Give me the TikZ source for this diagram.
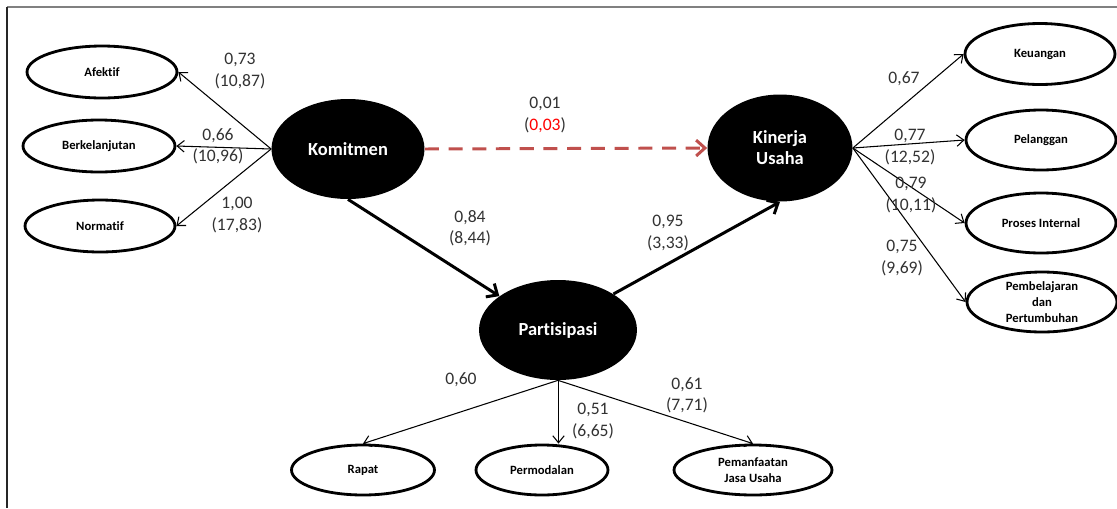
\documentclass[tikz,border=0pt]{standalone}
\usepackage{fontspec}
\setmainfont[Ligatures=NoCommon]{Carlito}
\usetikzlibrary{shapes.geometric,arrows.meta,calc}
\definecolor{dashred}{RGB}{192,80,77}
\definecolor{lblgray}{RGB}{50,50,50}
\begin{document}
\begin{tikzpicture}[x=0.02cm,y=-0.02cm,
  ind/.style={ellipse,draw=black,line width=1.6pt,fill=white,inner sep=0pt,
    font=\fontsize{7.2}{9}\selectfont\bfseries,align=center},
  lat/.style={ellipse,fill=black,inner sep=0pt,text=white,
    font=\fontsize{10.5}{12}\selectfont\bfseries,align=center},
  loadarrow/.style={line width=0.6pt,-{Straight Barb[length=4pt,width=6.5pt]}},
  patharrow/.style={line width=1.7pt,-{Straight Barb[length=5pt,width=9pt]}},
  nsarrow/.style={line width=1.7pt,dashred,dash pattern=on 8pt off 5.5pt,
    -{Straight Barb[length=5pt,width=9pt]}},
  lbl/.style={font=\fontsize{10}{12}\selectfont,text=lblgray,align=center,inner sep=0pt}
]
\useasboundingbox (0,0) rectangle (1117,508);
\fill[white] (0,0) rectangle (1117,508);
% frame
\draw[line width=1.1pt,black!50] (7,7) -- (1117,7);
\draw[line width=1.1pt,black!85] (7,7) -- (7,508);

% latent variables
\node[lat,minimum width=3.06cm,minimum height=2.0cm] (kom) at (348,149) {Komitmen};
\node[lat,minimum width=2.9cm,minimum height=2.14cm] (kin) at (780,148) {Kinerja\\Usaha};
\node[lat,minimum width=3.16cm,minimum height=2.0cm] (par) at (558,330) {Partisipasi};

% left indicators
\node[ind,minimum width=3.0cm,minimum height=1.04cm] (afe) at (102,72) {Afektif};
\node[ind,minimum width=3.04cm,minimum height=1.04cm] (ber) at (99,146) {Berkelanjutan};
\node[ind,minimum width=3.0cm,minimum height=1.04cm] (nor) at (100,226) {Normatif};

% right indicators
\node[ind,minimum width=3.0cm,minimum height=1.22cm] (keu) at (1040,54) {Keuangan};
\node[ind,minimum width=3.0cm,minimum height=1.2cm] (pel) at (1041,140) {Pelanggan};
\node[ind,minimum width=3.0cm,minimum height=1.2cm] (pro) at (1041,223) {Proses Internal};
\node[ind,minimum width=3.0cm,minimum height=1.2cm] (pem) at (1042,302) {Pembelajaran\\dan\\Pertumbuhan};

% bottom indicators
\node[ind,minimum width=2.86cm,minimum height=1.0cm] (rap) at (363,470) {Rapat};
\node[ind,minimum width=2.64cm,minimum height=1.0cm] (mod) at (542,470) {Permodalan};
\node[ind,minimum width=3.16cm,minimum height=1.0cm] (jas) at (753,470) {Pemanfaatan\\Jasa Usaha};

% loadings
\draw[loadarrow] (kom.west) -- (afe.east);
\draw[loadarrow] (kom.west) -- (ber.east);
\draw[loadarrow] (kom.west) -- (nor.east);

\draw[loadarrow] (kin.east) -- (keu.west);
\draw[loadarrow] (kin.east) -- (pel.west);
\draw[loadarrow] (kin.east) -- (pro.west);
\draw[loadarrow] (kin.east) -- (pem.west);

\draw[loadarrow] (par.south) -- (rap.north);
\draw[loadarrow] ($(par.south)+(0.5,0)$) -- ($(par.south |- mod.north)+(0.5,0)$);
\draw[loadarrow] (par.south) -- (jas.north);

% structural paths
\draw[patharrow] (kom.south) -- (par.150);
\draw[patharrow] (par.33) -- (kin.south);
\draw[nsarrow] (kom.east) -- (kin.west);

% labels
\node[lbl] (l1) at (240,71) {0,73\\(10,87)};
\node[lbl] (l2) at (218,146) {0,66\\(10,96)};
\node[lbl] (l3) at (237,215) {1,00\\(17,83)};
\node[lbl] (l4) at (545,115) {0,01\\(\textcolor{red}{0,03})};
\node[lbl] (l5) at (470,228) {0,84\\(8,44)};
\node[lbl] (l6) at (668,233) {0,95\\(3,33)};
\node[lbl] (l7) at (904,79) {0,67};
\node[lbl] (l8) at (910,147) {0,77\\(12,52)};
\node[lbl] (l9) at (911,195) {0,79\\(10,11)};
\node[lbl] (l10) at (902,258) {0,75\\(9,69)};
\node[lbl] (l11) at (461,380) {0,60};
\node[lbl] (l12) at (593,421) {0,51\\(6,65)};
\node[lbl] (l13) at (687,395) {0,61\\(7,71)};
\end{tikzpicture}
\end{document}
